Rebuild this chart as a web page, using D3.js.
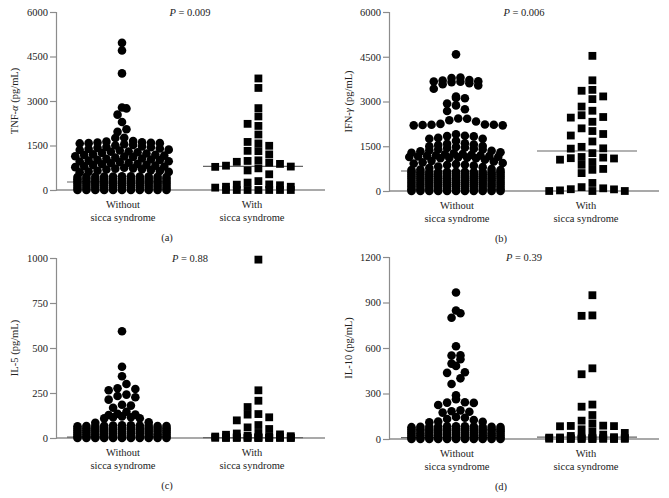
<!DOCTYPE html>
<html>
<head>
<meta charset="utf-8">
<script src="https://cdn.jsdelivr.net/npm/d3@7"></script>
<style>
  html, body { margin: 0; padding: 0; background: #fff; }
  svg { display: block; }
  text { font-family: "Liberation Serif", "DejaVu Serif", serif; fill: #222; }
</style>
</head>
<body>
<svg id="chart" width="669" height="498"></svg>
<script>
// ---------------- data ----------------
const categories = ["Without sicca syndrome", "With sicca syndrome"];
const categoryLines = [["Without", "sicca syndrome"], ["With", "sicca syndrome"]];
const panelLetters = ["(a)", "(b)", "(c)", "(d)"];
const yLabelNames = [["TNF-", "α"], ["IFN-", "γ"], ["IL-5", ""], ["IL-10", ""]];
const pValues = ["0.009", "0.006", "0.88", "0.39"];

const ticksA = [0, 1500, 3000, 4500, 6000];
const ticksB = [0, 1500, 3000, 4500, 6000];
const ticksC = [0, 250, 500, 750, 1000];
const ticksD = [0, 300, 600, 900, 1200];

const mediansA = [270, 795];
const mediansB = [670, 1340];
const mediansC = [5, 2];
const mediansD = [9, 13];

const tnfWithout = [
  4960, 4700, 3930, 2780, 2750, 2540, 2290, 2050, 1960, 1760, 1750, 1650, 1630, 1610, 1600, 1590, 1580, 1580, 1570, 1540,
  1520, 1500, 1470, 1450, 1440, 1420, 1400, 1380, 1360, 1350, 1330, 1300, 1290, 1270, 1250,
  1230, 1200, 1190, 1180, 1160, 1140, 1130, 1110, 1090, 1060, 1050, 1030, 1020, 1010, 990,
  970, 960, 940, 920, 900, 880, 870, 850, 840, 820, 800, 790,
  770, 750, 730, 720, 700, 690, 670, 650, 640, 620, 610, 600,
  460, 458, 455, 452, 450, 450, 448, 445, 442, 440, 440,
  380, 378, 376, 375, 375, 374, 372, 371, 370, 368, 365,
  310, 308, 305, 302, 300, 300, 298, 295, 292, 290, 290,
  230, 228, 226, 225, 225, 224, 222, 221, 220, 218, 215,
  160, 158, 155, 152, 150, 150, 148, 145, 142, 140, 140,
  80, 78, 76, 75, 75, 74, 72, 71, 70, 68, 65,
  0, 0, 0, 0, 0, 0, 0, 0, 0, 0, 0
];
const tnfWith = [
  3760, 3440, 2760, 2480, 2230, 2160, 1870, 1620, 1570, 1490, 1320, 1310, 1200,
  1000, 980, 950, 920, 880, 820, 790, 780, 730, 660, 530,
  300, 250, 190, 180, 160, 110, 110, 80,
  0, 0, 0, 0, 0, 0, 0
];
const ifnWithout = [
  4580,
  3800, 3790, 3720, 3700, 3680, 3670, 3660, 3650, 3610, 3580, 3540, 3430,
  3170, 3120, 3110, 2930, 2870, 2740, 2680,
  2430, 2420, 2370, 2330, 2250, 2230, 2220, 2220, 2210, 2200, 2200,
  1900, 1850, 1840, 1830, 1780, 1750, 1750, 1680,
  1600, 1580, 1560, 1540, 1510, 1500, 1480, 1460, 1440, 1420, 1400,
  1390, 1370, 1350, 1330, 1300, 1280, 1260, 1240, 1230, 1210, 1200,
  1190, 1180, 1170, 1160, 1150, 1140, 1130, 1120, 1110, 1100, 1100,
  1050, 1010, 990, 960, 940, 920, 900, 880, 870,
  850, 820, 800, 770, 740, 720, 700, 700,
  645, 642, 640, 638, 636, 635, 633, 630, 628, 626, 625,
  575, 572, 570, 568, 566, 565, 563, 560, 558, 556, 555,
  505, 502, 500, 498, 496, 495, 493, 490, 488, 486, 485,
  435, 432, 430, 428, 426, 425, 423, 420, 418, 416, 415,
  365, 362, 360, 358, 356, 355, 353, 350, 348, 346, 345,
  295, 292, 290, 288, 286, 285, 283, 280, 278, 276, 275,
  225, 222, 220, 218, 216, 215, 213, 210, 208, 206, 205,
  155, 152, 150, 148, 146, 145, 143, 140, 138, 136, 135,
  75, 72, 70, 68, 66, 65, 63, 60, 58, 56, 55,
  0, 0, 0, 0, 0, 0, 0, 0, 0, 0, 0
];
const ifnWith = [
  4530, 3710, 3390, 3360, 3170, 3080, 2830, 2690, 2540, 2480, 2460, 2320, 2100, 2010,
  1910, 1860, 1660, 1480, 1430, 1420, 1270, 1140, 1120, 1100, 1090, 1050,
  970, 880, 740, 710, 600, 270, 130, 90, 60, 55, 20, 0, 0, 0
];
const il5Without = [
  593, 396, 343, 300, 276, 272, 265, 241, 233, 226, 213, 185, 180, 168, 146, 135, 130, 128,
  120, 115, 115, 110, 109, 87, 85,
  70, 70, 69, 69, 68, 68, 67, 67, 66, 66, 65,
  57, 57, 56, 56, 56, 55, 55, 55, 54, 54, 53,
  47, 47, 46, 46, 45, 45, 44, 44, 43, 43, 42,
  35, 35, 34, 34, 34, 33, 33, 33, 32, 32, 31,
  24, 24, 23, 23, 22, 22, 21, 21, 20, 20, 19,
  12, 12, 11, 11, 11, 10, 10, 10, 9, 9, 8,
  0, 0, 0, 0, 0, 0, 0, 0, 0, 0, 0
];
const il5With = [
  991, 265, 207, 172, 133, 130, 115, 98, 72, 59, 50, 28, 25, 20, 18,
  12, 10, 8, 8, 6, 5, 5, 4, 3, 2, 2, 1, 1, 0, 0, 0, 0, 0, 0, 0
];
const il10Without = [
  966, 847, 829, 799, 612, 552, 550, 526, 497, 482, 440, 436, 400, 363, 288, 262, 242, 240, 238, 224,
  189, 183, 180, 174, 145, 140, 132, 125, 115, 114, 110,
  84, 83, 83, 82, 82, 81, 81, 80, 80, 79, 78,
  68, 68, 67, 67, 66, 66, 66, 65, 65, 64, 64,
  56, 55, 55, 54, 54, 53, 53, 52, 52, 51, 50,
  41, 41, 40, 40, 39, 39, 39, 38, 38, 37, 37,
  28, 27, 27, 26, 26, 25, 25, 24, 24, 23, 22,
  14, 14, 13, 13, 12, 12, 12, 11, 11, 10, 10,
  0, 0, 0, 0, 0, 0, 0, 0, 0, 0, 0
];
const il10With = [
  948, 815, 812, 466, 427, 227, 213, 158, 121, 103, 88, 86, 85, 84, 64, 51, 40, 29, 20,
  14, 12, 10, 9, 8, 7, 6, 5, 5, 4, 3, 2, 2, 1, 1, 0, 0, 0, 0, 0
];

// -------------- panels (built from the arrays above) --------------
const panels = [
  { ox: 0,   oy: 0,   ticks: ticksA, medians: mediansA, groups: [tnfWithout, tnfWith], ax: 56, top: 12, zero: 190 },
  { ox: 334, oy: 0,   ticks: ticksB, medians: mediansB, groups: [ifnWithout, ifnWith], ax: 55, top: 12, zero: 191 },
  { ox: 0,   oy: 249, ticks: ticksC, medians: mediansC, groups: [il5Without, il5With], ax: 56, top: 9,  zero: 189 },
  { ox: 334, oy: 249, ticks: ticksD, medians: mediansD, groups: [il10Without, il10With], ax: 55, top: 8, zero: 190 }
];

const svg = d3.select("#chart");
const axisColor = "#8c8c8c";

// Row layout for the large group: nearby values form a row, spread horizontally,
// highest value in the middle of the row; well-separated full rows are staggered.
function rowScatter(values, y, center, spacing, cap, rowPx) {
  const sorted = values.slice().sort((a, b) => a - b);
  const rows = [];
  let cur = null;
  for (const v of sorted) {
    const py = y(v);
    if (cur && cur.start - py < rowPx && cur.items.length < cap) cur.items.push(v);
    else { cur = { start: py, items: [v] }; rows.push(cur); }
  }
  const pts = [];
  let alt = false;
  rows.forEach((r, ri) => {
    const n = r.items.length;
    const gap = ri ? rows[ri - 1].start - r.start : 0;
    let shift = 0;
    if (ri && gap >= 4.5 && n >= 8) { alt = !alt; shift = alt ? 0.25 : -0.25; }
    const offs = d3.range(n).map(k => k - (n - 1) / 2)
      .sort((a, b) => Math.abs(a) - Math.abs(b) || b - a);
    const desc = r.items.slice().sort((a, b) => b - a);
    desc.forEach((v, i) => pts.push({ v, x: center + (offs[i] + shift) * spacing }));
  });
  return pts;
}

// Column layout for the small group: most central free column, else the column with most clearance.
function columnScatter(values, y, center, step, slotOffs, minDy) {
  const order = slotOffs.slice().sort((a, b) => Math.abs(a) - Math.abs(b) || b - a);
  const cols = new Map(slotOffs.map(o => [o, []]));
  const pts = [];
  values.slice().sort((a, b) => b - a).forEach(v => {
    const py = y(v);
    let best = null, bestD = -1;
    for (const o of order) {
      const col = cols.get(o);
      const d = col.length ? d3.min(col, q => Math.abs(q - py)) : Infinity;
      if (d >= minDy) { best = o; break; }
      if (d > bestD + 0.05) { bestD = d; best = o; }
    }
    cols.get(best).push(py);
    pts.push({ v, x: center + best * step });
  });
  return pts;
}
const squareSlots = d3.range(-3.5, 4, 1);

panels.forEach((p, pi) => {
  const g = svg.append("g").attr("transform", `translate(${p.ox},${p.oy})`);
  const y = d3.scaleLinear().domain([0, d3.max(p.ticks)]).range([p.zero, p.top]);
  const x = d3.scalePoint().domain(categories).range([122, 253]);

  // y axis
  const yAxis = d3.axisLeft(y).tickValues(p.ticks).tickFormat(d3.format("d")).tickSize(6).tickPadding(2);
  const ya = g.append("g").attr("transform", `translate(${p.ax},0)`).call(yAxis);
  ya.select(".domain").attr("stroke", axisColor).attr("stroke-width", 1.2);
  ya.selectAll(".tick line").attr("stroke", axisColor).attr("stroke-width", 1.2);
  ya.selectAll(".tick text").attr("font-family", "Liberation Serif, serif").attr("font-size", 10.5).attr("fill", "#222");

  // x axis line
  g.append("line").attr("x1", p.ax).attr("x2", 325).attr("y1", p.zero).attr("y2", p.zero)
    .attr("stroke", axisColor).attr("stroke-width", 1.4);

  // medians
  const halfW = [51, 50];
  categories.forEach((c, ci) => {
    const shift = ci === 0 ? -4 : 0;
    g.append("line")
      .attr("x1", x(c) - halfW[ci] + shift).attr("x2", x(c) + halfW[ci] + shift)
      .attr("y1", y(p.medians[ci])).attr("y2", y(p.medians[ci]))
      .attr("stroke", "#666").attr("stroke-width", 1.2);
  });

  // points
  const circ = rowScatter(p.groups[0], y, x(categories[0]), 8.9, 11, 7);
  g.append("g").selectAll("circle").data(circ).join("circle")
    .attr("cx", d => d.x).attr("cy", d => y(d.v)).attr("r", 4.3).attr("fill", "#000");
  const sq = columnScatter(p.groups[1], y, x(categories[1]), 10.8, squareSlots, 7.5);
  const s = 7.8;
  g.append("g").selectAll("rect").data(sq).join("rect")
    .attr("x", d => d.x - s / 2).attr("y", d => y(d.v) - s / 2).attr("width", s).attr("height", s).attr("fill", "#000");

  // category labels
  categories.forEach((c, ci) => {
    const t = g.append("text").attr("text-anchor", "middle").attr("font-size", 10.5);
    categoryLines[ci].forEach((line, li) => {
      t.append("tspan").attr("x", x(c) + (ci === 0 ? 1 : -1)).attr("y", p.zero + 18 + li * 12.5).text(line);
    });
  });

  // y label
  const yl = g.append("text").attr("text-anchor", "middle").attr("font-size", 10.5)
    .attr("transform", `translate(18,${(p.top + p.zero) / 2}) rotate(-90)`);
  yl.append("tspan").text(yLabelNames[pi][0]);
  if (yLabelNames[pi][1]) yl.append("tspan").attr("font-style", "italic").text(yLabelNames[pi][1]);
  yl.append("tspan").text(" (pg/mL)");

  // P value
  const pt = g.append("text").attr("text-anchor", "middle").attr("font-size", 10.5)
    .attr("x", 190).attr("y", p.top + 4);
  pt.append("tspan").attr("font-style", "italic").text("P");
  pt.append("tspan").text(" = " + pValues[pi]);

  // panel letter
  g.append("text").attr("text-anchor", "middle").attr("font-size", 10.5)
    .attr("x", 167).attr("y", p.zero + 51).text(panelLetters[pi]);
});
</script>
</body>
</html>
